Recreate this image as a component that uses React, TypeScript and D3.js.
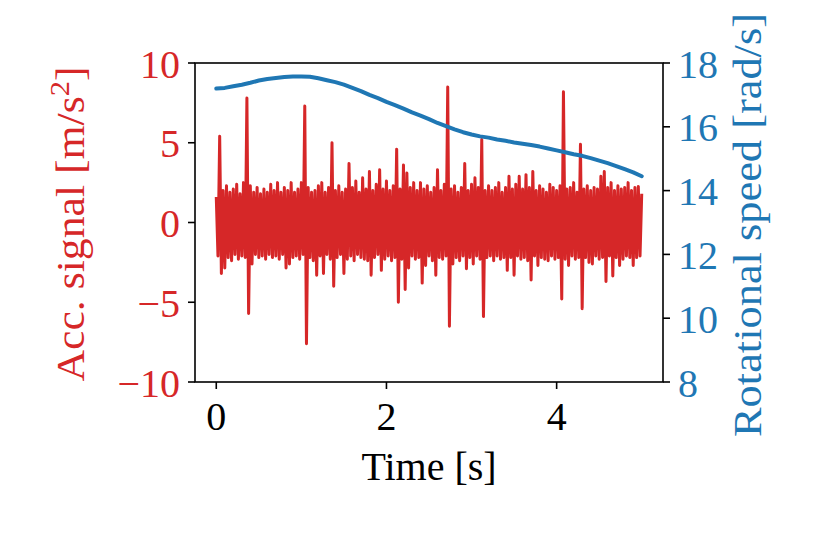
import React from "react";
import * as d3 from "d3";

const timeTicks = [0, 2, 4];
const accTicks = [-10, -5, 0, 5, 10];
const speedTicks = [8, 10, 12, 14, 16, 18];

const accSampleInterval = 0.02;
const accSignal = [
  1.6, -2.1, 5.4, -3.2, 2.0, -2.85, 2.3, -2.2, 1.9, -2.4,
  2.1, -2.0, 2.4, -2.3, 1.8, -2.1, 2.5, -2.2, 7.8, -5.7,
  2.3, -2.6, 1.9, -2.0, 2.2, -2.2, 1.8, -2.1, 2.1, -2.3,
  1.9, -2.0, 2.4, -2.2, 2.0, -2.1, 2.5, -2.3, 1.9, -2.0,
  2.2, -2.85, 2.0, -2.6, 2.5, -2.2, 1.9, -2.1, 2.1, -2.3,
  2.5, -2.0, 7.3, -7.6, 2.2, -2.2, 1.9, -2.4, 2.0, -3.3,
  2.3, -2.1, 2.5, -3.2, 1.9, -2.0, 2.2, -2.3, 5.0, -4.0,
  2.0, -2.2, 2.3, -2.0, 1.9, -3.2, 2.1, -2.3, 3.7, -2.1,
  2.2, -2.4, 2.6, -2.0, 1.9, -2.2, 2.8, -2.3, 2.1, -2.4,
  3.2, -3.3, 2.0, -2.2, 2.4, -2.0, 3.3, -3.0, 2.1, -2.3,
  2.6, -2.1, 2.0, -2.4, 2.3, -2.2, 4.6, -5.0, 2.1, -2.3,
  3.6, -4.2, 3.1, -2.85, 2.2, -2.1, 2.5, -2.3, 2.0, -2.2,
  2.5, -3.8, 2.1, -2.7, 2.3, -2.1, 1.9, -2.4, 2.2, -3.3,
  3.3, -2.2, 2.0, -2.3, 2.4, -2.1, 8.5, -6.5, 2.1, -2.6,
  2.3, -2.2, 1.9, -2.4, 2.2, -2.1, 3.7, -2.9, 2.0, -2.2,
  2.4, -2.6, 2.8, -2.1, 2.2, -2.3, 5.2, -5.9, 2.0, -2.2,
  2.3, -2.1, 2.0, -2.4, 2.2, -2.1, 2.5, -2.3, 1.9, -2.2,
  2.2, -3.0, 2.9, -2.2, 2.1, -3.3, 2.4, -2.1, 2.9, -2.3,
  2.1, -2.2, 3.0, -2.4, 2.2, -3.6, 3.2, -2.1, 2.0, -2.7,
  2.3, -2.2, 2.1, -2.3, 1.9, -2.4, 2.4, -2.1, 2.2, -2.3,
  2.0, -2.2, 2.3, -4.8, 8.2, -2.3, 2.1, -2.7, 2.2, -2.1,
  2.5, -2.3, 1.9, -2.2, 4.9, -5.4, 2.1, -2.2, 2.3, -2.5,
  2.0, -2.6, 2.2, -2.1, 2.1, -2.3, 2.9, -2.2, 3.2, -3.7,
  2.2, -2.1, 2.5, -3.35, 2.0, -2.2, 2.3, -2.7, 2.1, -2.3,
  2.2, -2.1, 2.5, -2.2, 2.0, -2.7, 2.2, -2.2, 2.25, -2.1,
  1.8,
];

const speedSampleInterval = 0.1;
const speedValues = [
  17.2, 17.22, 17.27, 17.32, 17.38, 17.45, 17.5, 17.53, 17.56, 17.58,
  17.58, 17.57, 17.52, 17.46, 17.4, 17.32, 17.22, 17.12, 17.0, 16.9,
  16.78, 16.68, 16.57, 16.45, 16.35, 16.24, 16.12, 16.02, 15.92, 15.83,
  15.76, 15.7, 15.66, 15.6, 15.56, 15.51, 15.47, 15.43, 15.38, 15.32,
  15.26, 15.2, 15.14, 15.09, 15.02, 14.94, 14.86, 14.77, 14.67, 14.57,
  14.45,
];

const RED = "#d62728";
const BLUE = "#1f77b4";
const FONT = "'Liberation Serif', 'DejaVu Serif', serif";

export default function App() {
  const W = 821;
  const H = 539;
  const left = 195;
  const right = 663;
  const top = 63;
  const bottom = 382;
  const tickLen = 7;
  const fs = 40;

  const x = d3.scaleLinear().domain([-0.25, 5.25]).range([left, right]);
  const yAcc = d3.scaleLinear().domain([-10, 10]).range([bottom, top]);
  const ySpeed = d3.scaleLinear().domain([8, 18]).range([bottom, top]);

  const accLine = d3
    .line<number>()
    .x((_, i) => x(i * accSampleInterval))
    .y((d) => yAcc(d));
  const speedLine = d3
    .line<number>()
    .x((_, i) => x(i * speedSampleInterval))
    .y((d) => ySpeed(d));

  const fmt = (v: number) => (v < 0 ? "\u2212" + Math.abs(v) : String(v));

  return (
    <svg
      width={W}
      height={H}
      style={{ position: "absolute", left: 0, top: 0, background: "#fff" }}
      fontFamily={FONT}
    >
      <rect x={0} y={0} width={W} height={H} fill="#fff" />
      <path
        d={accLine(accSignal) || ""}
        fill="none"
        stroke={RED}
        strokeWidth={3}
        strokeLinejoin="round"
      />
      <path
        d={speedLine(speedValues) || ""}
        fill="none"
        stroke={BLUE}
        strokeWidth={4}
        strokeLinejoin="round"
        strokeLinecap="round"
      />
      <rect
        x={left}
        y={top}
        width={right - left}
        height={bottom - top}
        fill="none"
        stroke="#000"
        strokeWidth={1.6}
      />
      {accTicks.map((t) => (
        <g key={"a" + t}>
          <line x1={left - tickLen} x2={left} y1={yAcc(t)} y2={yAcc(t)} stroke="#000" strokeWidth={1.6} />
          <text x={left - 15} y={yAcc(t) + 14.5} textAnchor="end" fontSize={fs} fill={RED}>
            {fmt(t)}
          </text>
        </g>
      ))}
      {speedTicks.map((t) => (
        <g key={"s" + t}>
          <line x1={right} x2={right + tickLen} y1={ySpeed(t)} y2={ySpeed(t)} stroke="#000" strokeWidth={1.6} />
          <text x={right + 15} y={ySpeed(t) + 14.5} textAnchor="start" fontSize={fs} fill={BLUE}>
            {fmt(t)}
          </text>
        </g>
      ))}
      {timeTicks.map((t) => (
        <g key={"t" + t}>
          <line x1={x(t)} x2={x(t)} y1={bottom} y2={bottom + tickLen} stroke="#000" strokeWidth={1.6} />
          <text x={x(t)} y={429.5} textAnchor="middle" fontSize={fs} fill="#000">
            {fmt(t)}
          </text>
        </g>
      ))}
      <text x={(left + right) / 2} y={480} textAnchor="middle" fontSize={fs} fill="#000">
        Time [s]
      </text>
      <text
        transform={`translate(84,224) rotate(-90)`}
        textAnchor="middle"
        fontSize={fs}
        fill={RED}
        textLength={315}
        lengthAdjust="spacingAndGlyphs"
      >
        Acc. signal [m/s<tspan fontSize={28} baselineShift="super">2</tspan>]
      </text>
      <text
        transform={`translate(761,225) rotate(-90)`}
        textAnchor="middle"
        fontSize={fs}
        fill={BLUE}
        textLength={424}
        lengthAdjust="spacingAndGlyphs"
      >
        Rotational speed [rad/s]
      </text>
    </svg>
  );
}
